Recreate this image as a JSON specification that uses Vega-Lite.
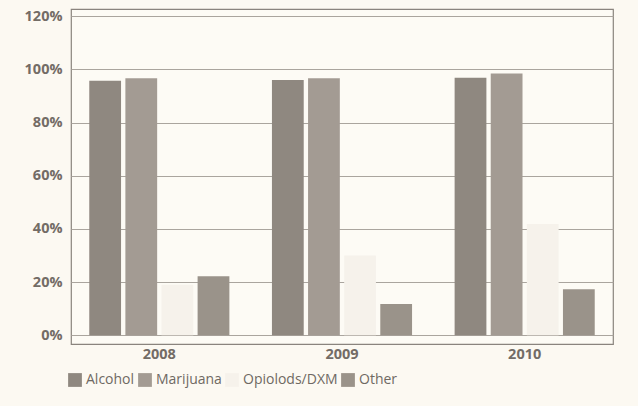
{
  "$schema": "https://vega.github.io/schema/vega-lite/v6.json",
  "width": 542,
  "height": 335,
  "autosize": "none",
  "padding": {"left": 71, "top": 9, "right": 25, "bottom": 62},
  "background": "#fcf9f2",
  "config": {
    "view": {"stroke": "#8a847e", "strokeWidth": 1.2, "fill": "#fdfbf5"},
    "font": "Open Sans"
  },
  "data": {
    "values": [
      {"year": "2008", "substance": "Alcohol", "pct": 0.957},
      {"year": "2008", "substance": "Marijuana", "pct": 0.967},
      {"year": "2008", "substance": "Opiolods/DXM", "pct": 0.19},
      {"year": "2008", "substance": "Other", "pct": 0.222},
      {"year": "2009", "substance": "Alcohol", "pct": 0.96},
      {"year": "2009", "substance": "Marijuana", "pct": 0.967},
      {"year": "2009", "substance": "Opiolods/DXM", "pct": 0.30},
      {"year": "2009", "substance": "Other", "pct": 0.117},
      {"year": "2010", "substance": "Alcohol", "pct": 0.968},
      {"year": "2010", "substance": "Marijuana", "pct": 0.984},
      {"year": "2010", "substance": "Opiolods/DXM", "pct": 0.418},
      {"year": "2010", "substance": "Other", "pct": 0.173}
    ]
  },
  "mark": {"type": "bar"},
  "encoding": {
    "x": {
      "field": "year",
      "type": "nominal",
      "title": null,
      "scale": {"paddingInner": 0.233, "paddingOuter": 0.1},
      "axis": {
        "labelAngle": 0,
        "domain": false,
        "ticks": false,
        "labelFont": "Open Sans",
        "labelFontWeight": "bold",
        "labelFontSize": 14.5,
        "labelColor": "#736c66",
        "labelPadding": 3
      }
    },
    "xOffset": {
      "field": "substance",
      "type": "nominal",
      "sort": ["Alcohol", "Marijuana", "Opiolods/DXM", "Other"],
      "scale": {"paddingInner": 0.12}
    },
    "y": {
      "field": "pct",
      "type": "quantitative",
      "title": null,
      "scale": {"domain": [-0.033, 1.227], "nice": false, "zero": false},
      "axis": {
        "values": [0, 0.2, 0.4, 0.6, 0.8, 1.0, 1.2],
        "format": ".0%",
        "domain": false,
        "ticks": false,
        "labelFont": "Open Sans",
        "labelFontWeight": "bold",
        "labelFontSize": 14.5,
        "labelColor": "#736c66",
        "labelPadding": 9,
        "gridColor": "#aaa59e",
        "gridWidth": 1
      }
    },
    "y2": {"datum": 0},
    "color": {
      "field": "substance",
      "type": "nominal",
      "sort": ["Alcohol", "Marijuana", "Opiolods/DXM", "Other"],
      "scale": {
        "domain": ["Alcohol", "Marijuana", "Opiolods/DXM", "Other"],
        "range": ["#8f8880", "#a39b93", "#f6f2eb", "#9a938a"]
      },
      "legend": {
        "title": null,
        "orient": "none",
        "legendX": -3,
        "legendY": 364,
        "direction": "horizontal",
        "symbolType": "square",
        "symbolSize": 190,
        "symbolStrokeWidth": 0,
        "labelFont": "Open Sans",
        "labelFontSize": 14,
        "labelColor": "#6f6963",
        "labelOffset": 4,
        "columnPadding": 3
      }
    }
  }
}
